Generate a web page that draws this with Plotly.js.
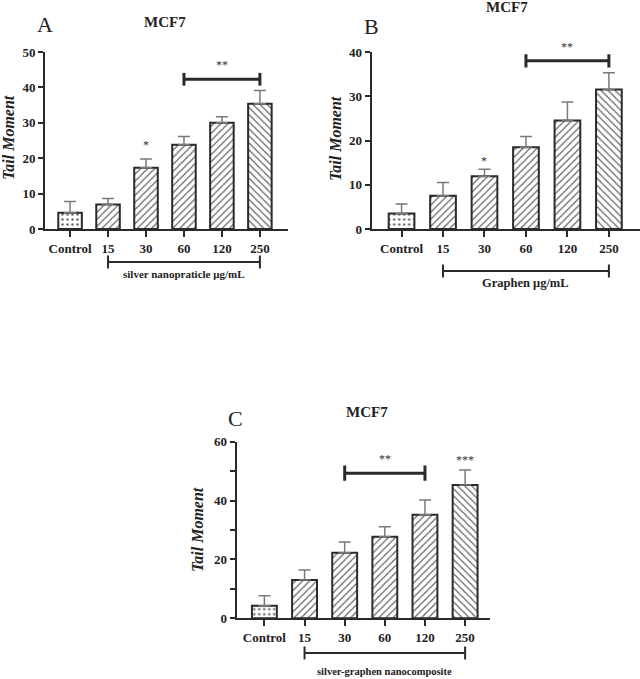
<!DOCTYPE html>
<html><head><meta charset="utf-8">
<script src="https://cdn.plot.ly/plotly-3.0.1.min.js"></script>
<style>html,body{margin:0;padding:0;background:#fff}#chart{width:640px;height:679px}</style>
</head><body><div id="chart"></div>
<script>
// ---- data ----
const categories = ['Control', '15', '30', '60', '120', '250'];
const valuesA = [4.6, 6.9, 17.3, 23.8, 30.0, 35.4];
const errorsA = [3.2, 1.7, 2.5, 2.3, 1.7, 3.7];
const valuesB = [3.5, 7.5, 11.9, 18.5, 24.5, 31.5];
const errorsB = [2.15, 3.0, 1.6, 2.4, 4.2, 3.8];
const valuesC = [4.3, 13.0, 22.3, 27.7, 35.2, 45.3];
const errorsC = [3.4, 3.4, 3.6, 3.4, 5.0, 5.1];
const panelLetters = ['A', 'B', 'C'];
const panelTitle = 'MCF7';
const yTitle = 'Tail Moment';
const groupLabels = ['silver nanopraticle μg/mL', 'Graphen μg/mL', 'silver-graphen nanocomposite'];
// significance marks: [fromCategory, toCategory, yValue, label]
const sigBarsA = [['60', '250', 42.3, '**']];
const sigBarsB = [['60', '250', 38.0, '**']];
const sigBarsC = [['30', '120', 49.3, '**']];
// single stars: [category, yValue, label]
const starsA = [['30', 23.7, '*']];
const starsB = [['30', 15.4, '*']];
const starsC = [['250', 53.8, '***']];

// ---- styling / layout ----
const W = 640, H = 679;
const serif = 'Liberation Serif';
const ink = '#2a2a2a';
const px = v => v / W;
const py = v => 1 - v / H;
const patternShapes = ['.', '/', '/', '/', '/', '\\'];
const patternSolidity = [0.18, 0.25, 0.25, 0.25, 0.25, 0.25];

const panels = [
  {vals: valuesA, errs: errorsA, sig: sigBarsA, stars: starsA, xa: 'x', ya: 'y',
   xdom: [45, 288], ydom: [229, 52], xr: [-0.66, 5.74], yr: [0, 50], dtick: 10, minor: null,
   bracketY: 262, textY: 274, textSize: 11, capSig: 1.8,
   letter: [45, 25], title: [165, 22], ytitle: [9, 138]},
  {vals: valuesB, errs: errorsB, sig: sigBarsB, stars: starsB, xa: 'x2', ya: 'y2',
   xdom: [371.7, 640], ydom: [229, 52], xr: [-0.72, 5.75], yr: [0, 40], dtick: 10, minor: null,
   bracketY: 271, textY: 283, textSize: 12.5, capSig: 1.5,
   letter: [371, 27], title: [507, 7], ytitle: [336, 139]},
  {vals: valuesC, errs: errorsC, sig: sigBarsC, stars: starsC, xa: 'x3', ya: 'y3',
   xdom: [236.7, 490], ydom: [618.3, 441.7], xr: [-0.69, 5.62], yr: [0, 60], dtick: 20, minor: 10,
   bracketY: 653, textY: 671, textSize: 10.5, capSig: 2.6,
   letter: [235, 418], title: [367, 412], ytitle: [197, 530]}
];

const data = [];
const layout = {
  width: W, height: H, margin: {l: 0, r: 0, t: 0, b: 0},
  paper_bgcolor: '#fff', plot_bgcolor: 'rgba(0,0,0,0)', showlegend: false,
  font: {family: serif, color: '#222'},
  shapes: [], annotations: []
};

panels.forEach((p, i) => {
  const n = i === 0 ? '' : String(i + 1);
  data.push({
    type: 'bar', x: categories, y: p.vals, xaxis: p.xa, yaxis: p.ya, width: 0.62,
    marker: {color: '#fff', line: {color: ink, width: 2},
      pattern: {shape: patternShapes, fgcolor: '#666', bgcolor: '#fff', size: 5, solidity: patternSolidity}},
    error_y: {type: 'data', symmetric: false, array: p.errs, arrayminus: p.errs.map(() => 0),
      color: '#7a7a7a', thickness: 1.5, width: 6},
    hoverinfo: 'skip'
  });
  layout['xaxis' + n] = {
    domain: [px(p.xdom[0]), px(p.xdom[1])], anchor: p.ya, type: 'category',
    range: p.xr, showline: true, linecolor: ink, linewidth: 2, showgrid: false, zeroline: false,
    ticks: 'outside', ticklen: 6, tickwidth: 2, tickcolor: ink,
    tickfont: {family: serif, size: 13, weight: 'bold', color: '#222'}, fixedrange: true
  };
  const ya = {
    domain: [py(p.ydom[0]), py(p.ydom[1])], anchor: p.xa, range: p.yr, dtick: p.dtick,
    showline: true, linecolor: ink, linewidth: 2, showgrid: false, zeroline: false,
    ticks: 'outside', ticklen: 5, tickwidth: 2, tickcolor: ink,
    tickfont: {family: serif, size: 13, weight: 'bold', color: '#222'}, fixedrange: true
  };
  if (p.minor) ya.minor = {dtick: p.minor, ticks: 'outside', ticklen: 5, tickwidth: 2, tickcolor: ink, showgrid: false};
  layout['yaxis' + n] = ya;

  // significance bars
  p.sig.forEach(s => {
    const x0 = categories.indexOf(s[0]), x1 = categories.indexOf(s[1]);
    const line = {color: ink, width: 3};
    layout.shapes.push({type: 'line', xref: p.xa, yref: p.ya, x0: x0, x1: x1, y0: s[2], y1: s[2], line: line});
    layout.shapes.push({type: 'line', xref: p.xa, yref: p.ya, x0: x0, x1: x0, y0: s[2] - p.capSig, y1: s[2] + p.capSig, line: line});
    layout.shapes.push({type: 'line', xref: p.xa, yref: p.ya, x0: x1, x1: x1, y0: s[2] - p.capSig, y1: s[2] + p.capSig, line: line});
    layout.annotations.push({xref: p.xa, yref: p.ya, x: (x0 + x1) / 2, y: s[2], yshift: 14, text: s[3],
      showarrow: false, font: {family: serif, size: 12, color: '#333'}});
  });
  p.stars.forEach(s => {
    layout.annotations.push({xref: p.xa, yref: p.ya, x: categories.indexOf(s[0]), y: s[1], text: s[2],
      showarrow: false, yanchor: 'middle', font: {family: serif, size: 12, color: '#333'}});
  });
  // group bracket below axis (15 .. 250)
  const b0 = categories.indexOf('15'), b1 = categories.indexOf('250');
  const bl = {color: ink, width: 2};
  layout.shapes.push({type: 'line', xref: p.xa, yref: 'paper', x0: b0, x1: b1, y0: py(p.bracketY), y1: py(p.bracketY), line: bl});
  layout.shapes.push({type: 'line', xref: p.xa, yref: 'paper', x0: b0, x1: b0, y0: py(p.bracketY - 6.5), y1: py(p.bracketY + 6.5), line: bl});
  layout.shapes.push({type: 'line', xref: p.xa, yref: 'paper', x0: b1, x1: b1, y0: py(p.bracketY - 6.5), y1: py(p.bracketY + 6.5), line: bl});
  layout.annotations.push({xref: p.xa, yref: 'paper', x: (b0 + b1) / 2, y: py(p.textY), yanchor: 'middle',
    text: groupLabels[i], showarrow: false, font: {family: serif, size: p.textSize, weight: 'bold', color: '#222'}});
  // letter, title, y title
  layout.annotations.push({xref: 'paper', yref: 'paper', x: px(p.letter[0]), y: py(p.letter[1]), xanchor: 'center', yanchor: 'middle',
    text: panelLetters[i], showarrow: false, font: {family: serif, size: 22, color: '#222'}});
  layout.annotations.push({xref: 'paper', yref: 'paper', x: px(p.title[0]), y: py(p.title[1]), xanchor: 'center', yanchor: 'middle',
    text: panelTitle, showarrow: false, font: {family: serif, size: 15, weight: 'bold', color: '#222'}});
  layout.annotations.push({xref: 'paper', yref: 'paper', x: px(p.ytitle[0]), y: py(p.ytitle[1]), xanchor: 'center', yanchor: 'middle',
    textangle: -90, text: yTitle, showarrow: false, font: {family: serif, size: 16, weight: 'bold', style: 'italic', color: '#222'}});
});

Plotly.newPlot('chart', data, layout, {displayModeBar: false, staticPlot: true});
</script>
</body></html>
